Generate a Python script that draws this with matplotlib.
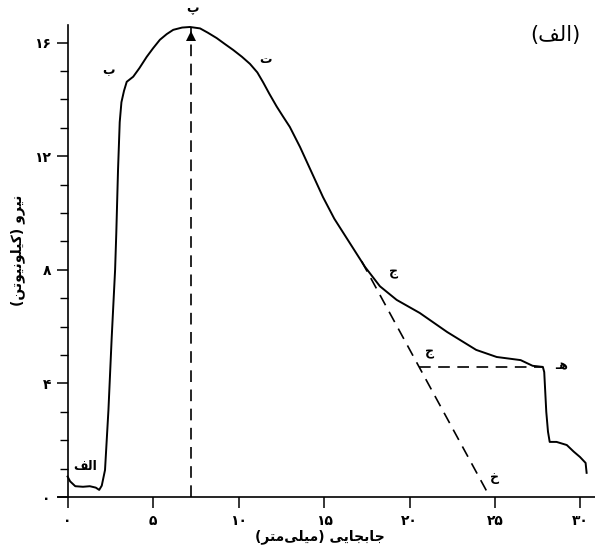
import matplotlib.pyplot as plt
from matplotlib.ticker import MultipleLocator, FixedLocator, FuncFormatter

# displacement (mm) and force (kN) along the load curve
disp = [0.0, 0.15, 0.45, 0.9, 1.3, 1.65, 1.85, 2.0, 2.19, 2.39, 2.58, 2.78,
        2.85, 2.95, 3.05, 3.15, 3.3, 3.46, 3.84, 4.2, 4.63, 5.0, 5.4, 5.8,
        6.18, 6.7, 7.16, 7.75, 8.2, 8.72, 9.2, 9.69, 10.2, 10.67, 11.1,
        11.44, 11.8, 12.23, 12.6, 13.0, 13.6, 14.3, 14.94, 15.6, 16.5,
        17.4, 18.27, 19.25, 20.6, 22.2, 23.9, 25.1, 26.5, 27.2, 27.8,
        27.88, 28.0, 28.1, 28.2, 28.6, 29.2, 29.6, 29.97, 30.3, 30.36]
force = [0.72, 0.55, 0.38, 0.36, 0.38, 0.33, 0.25, 0.4, 0.95, 3.06, 5.6, 8.0,
         9.3, 11.5, 13.2, 13.9, 14.3, 14.62, 14.8, 15.1, 15.5, 15.8, 16.1,
         16.3, 16.45, 16.53, 16.55, 16.5, 16.35, 16.16, 15.95, 15.74, 15.5,
         15.25, 14.95, 14.6, 14.2, 13.75, 13.4, 13.03, 12.32, 11.4, 10.56,
         9.8, 8.95, 8.1, 7.42, 6.94, 6.48, 5.81, 5.18, 4.93, 4.82, 4.62, 4.58,
         4.4, 3.0, 2.3, 1.94, 1.94, 1.83, 1.6, 1.41, 1.2, 0.85]

peak_x = 7.22
tangent_x = [17.2, 24.7]
tangent_y = [8.3, 0.0]
drop_x = 27.8
drop_y = 4.58

# point labels (display order, shaped glyphs)
point_names = ['\uFED2\uFEDF\uFE8D', '\uFE8F', '\u067E', '\u062A',
               '\u062C', '\u062C', '\u0640\uFEEB', '\u062E']
point_x = [1.02, 2.37, 7.28, 11.6, 19.04, 21.2, 28.9, 25.0]
point_y = [1.06, 15.03, 17.2, 15.39, 7.92, 5.1, 4.6, 0.67]

x_ticks = [0, 5, 10, 15, 20, 25, 30]
y_ticks = [0, 4, 8, 12, 16]

FA = '۰۱۲۳۴۵۶۷۸۹'


def fa_num(v, pos=None):
    return ''.join(FA[int(c)] for c in str(int(round(v))))


# "نیرو (کیلونیوتن)" and "جابجایی (میلی‌متر)" in display order
y_label = ('(' + '\uFEE6\uFE97\uFEEE\uFBFF\uFEE7\uFEEE\uFEE0\uFBFF\uFB90' + ')'
           + ' ' + '\uFEED\uFEAE\uFBFF\uFEE7')
x_label = ('(' + '\uFEAE\uFE98\uFEE3\uFBFD\uFEE0\uFBFF\uFEE3' + ')'
           + ' ' + '\uFBFD\uFBFE\uFE8E\uFEA0\uFE91\uFE8E\uFE9F')
title = '(' + '\uFED2\uFEDF\uFE8D' + ')'

plt.rcParams['font.family'] = ['DejaVu Sans']

fig = plt.figure(figsize=(5.95, 5.54), dpi=100)
ax = fig.add_axes([58 / 595, 1 - 497 / 554, 537 / 595, 472 / 554])
ax.set_xlim(-0.56, 30.85)
ax.set_ylim(0, 16.62)

ax.plot(disp, force, color='black', lw=1.4)

dash = (0, (7, 4.5))
fmax = max(force)
ax.plot([peak_x, peak_x], [0, fmax], color='black', lw=1.2, linestyle=dash)
ax.plot([peak_x], [fmax - 0.3], marker='^', color='black', ms=7,
        markeredgewidth=0)

ax.plot(tangent_x, tangent_y, color='black', lw=1.2, linestyle=dash)
slope = (tangent_y[1] - tangent_y[0]) / (tangent_x[1] - tangent_x[0])
hx = tangent_x[0] + (drop_y - tangent_y[0]) / slope
ax.plot([hx, drop_x], [drop_y, drop_y], color='black', lw=1.2, linestyle=dash)

for name, px, py in zip(point_names, point_x, point_y):
    ax.text(px, py, name, fontsize=9, fontweight='bold', ha='center',
            va='center', clip_on=False)

ax.spines['top'].set_visible(False)
ax.spines['right'].set_visible(False)
ax.spines['left'].set_position(('data', 0))
ax.spines['left'].set_linewidth(1.2)
ax.spines['bottom'].set_linewidth(1.2)

ax.xaxis.set_major_locator(FixedLocator(x_ticks))
ax.yaxis.set_major_locator(FixedLocator(y_ticks))
ax.yaxis.set_minor_locator(MultipleLocator(1))
ax.xaxis.set_major_formatter(FuncFormatter(fa_num))
ax.yaxis.set_major_formatter(FuncFormatter(fa_num))
ax.tick_params(axis='both', which='major', length=8, width=1.1,
               labelsize=10, pad=4)
ax.tick_params(axis='y', which='minor', length=6, width=1.0)
for lbl in ax.get_xticklabels() + ax.get_yticklabels():
    lbl.set_fontweight('bold')

fig.text(320 / 595, 1 - 537 / 554, x_label, fontsize=10, fontweight='bold',
         ha='center', va='center')
fig.text(18 / 595, 1 - 250 / 554, y_label, fontsize=10, fontweight='bold',
         ha='center', va='center', rotation=90)
fig.text(555 / 595, 1 - 35 / 554, title, fontsize=15, ha='center',
         va='center')

fig.savefig('out.png', dpi=100)
